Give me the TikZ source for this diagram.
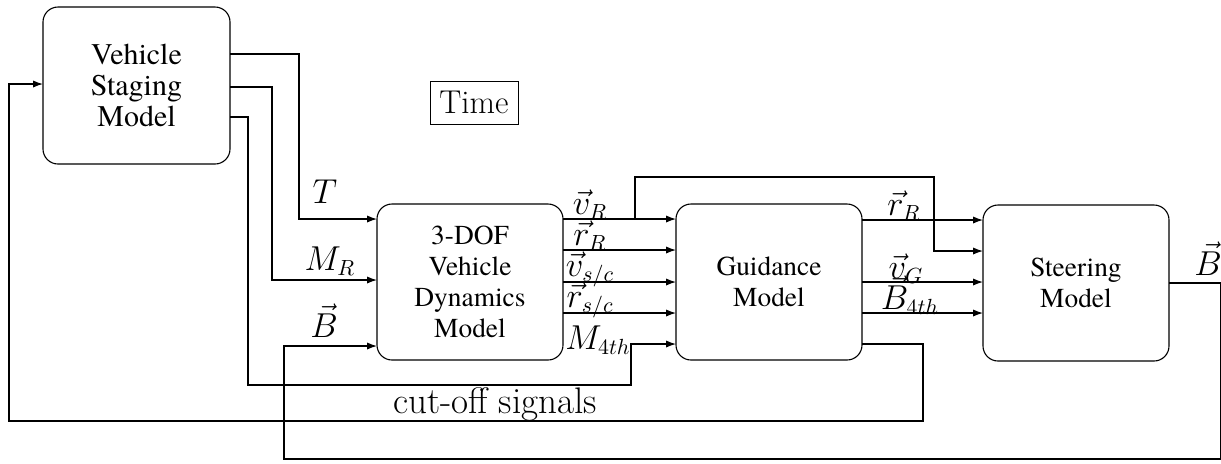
\documentclass[tikz,border=0pt]{standalone}
\usepackage{fontspec}
\newfontfamily\blockserif{texgyretermes-regular.otf}
\usetikzlibrary{arrows.meta}
\newcommand\sigfont{\fontsize{16}{19}\selectfont}
\newcommand\notefont{\fontsize{18.5}{22}\selectfont}
\newcommand\blkfont{\blockserif\fontsize{13.7}{15.5}\selectfont}
\newcommand\stgfont{\blockserif\fontsize{15}{15.5}\selectfont}
\begin{document}
\begin{tikzpicture}[x=0.5pt,y=-0.5pt,line width=0.55pt,
  blk/.style={draw,rounded corners=7.5pt,inner sep=0pt,outer sep=0pt,
    align=center,font=\blkfont,minimum width=93pt,minimum height=78pt},
  arr/.style={-{Latex[length=5pt,width=3.6pt]}},
  sig/.style={inner sep=0pt,anchor=base,font=\sigfont}]
\useasboundingbox (0,0) rectangle (1221,463);

% blocks
\node[blk,font=\stgfont,minimum width=93.5pt,minimum height=78.5pt] (stg) at (136.5,85.5) {Vehicle\\Staging\\Model};
\node[blk] (dof) at (470,282) {3-DOF\\Vehicle\\Dynamics\\Model};
\node[blk] (gd) at (769,282) {Guidance\\Model};
\node[blk] (st) at (1076,283) {Steering\\Model};
\node[draw,line width=0.5pt,inner sep=0pt,minimum width=44pt,minimum height=21.5pt,font=\fontsize{16.5}{19}\selectfont] (time) at (474,102.5) {Time};

% staging outputs into the dynamics and guidance blocks
\draw[arr] (stg.east |- 0,54) -| (299,219) -- (dof.west |- 0,219);
\draw[arr] (stg.east |- 0,87) -| (272,280) -- (dof.west |- 0,280);
\draw[arr] (stg.east |- 0,117) -| (248,385) -| (631,344) -- (gd.west |- 0,344);

% dynamics outputs
\draw[arr] (dof.east |- 0,219) -- (gd.west |- 0,219);
\draw[arr] (dof.east |- 0,250) -- (gd.west |- 0,250);
\draw[arr] (dof.east |- 0,282) -- (gd.west |- 0,282);
\draw[arr] (dof.east |- 0,313) -- (gd.west |- 0,313);
\coordinate (vsplit) at (635,219);
\draw[arr] (vsplit) |- (934,177) |- (st.west |- 0,251);

% guidance outputs
\draw[arr] (gd.east |- 0,220) -- (st.west |- 0,220);
\draw[arr] (gd.east |- 0,282) -- (st.west |- 0,282);
\draw[arr] (gd.east |- 0,313) -- (st.west |- 0,313);

% cut-off signals back to staging
\draw[arr] (gd.east |- 0,344) -| (923,421) -| (9,84) -- (stg.west |- 0,84);

% steering command fed back to the dynamics
\draw[arr] (st.east |- 0,283) -| (1220.5,459) -| (284,346) -- (dof.west |- 0,346);

% signal labels
\node[sig] (lT) at (325,203) {$T$};
\node[sig] (lMR) at (330,270) {$M_R$};
\node[sig] (lB) at (324,337) {$\vec{B}$};
\node[sig] (lvR) at (590,214) {$\vec{v}_R$};
\node[sig] (lrR) at (590,245) {$\vec{r}_R$};
\node[sig] (lvsc) at (590,276) {$\vec{v}_{s/c}$};
\node[sig] (lrsc) at (590,307) {$\vec{r}_{s/c}$};
\node[sig] (lM4) at (598,349) {$M_{4th}$};
\node[sig] (lrR2) at (904,215) {$\vec{r}_R$};
\node[sig] (lvG) at (906,278) {$\vec{v}_G$};
\node[sig] (lB4) at (910,309) {$\vec{B}_{4th}$};
\node[sig] (lBout) at (1208,275) {$\vec{B}$};
\node[sig,font=\notefont] (lcut) at (495,413) {cut-off signals};
\end{tikzpicture}
\end{document}
